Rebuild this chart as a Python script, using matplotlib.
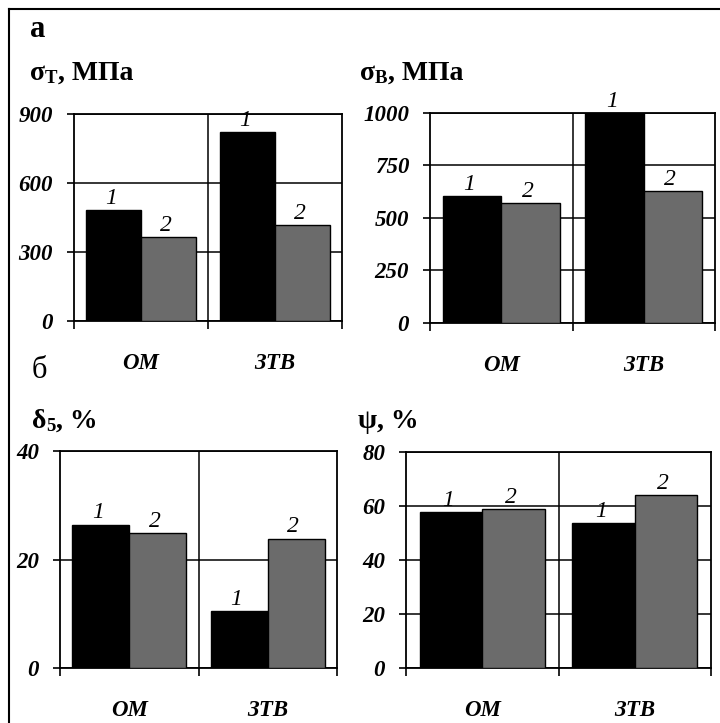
import numpy as np
import matplotlib
matplotlib.use("Agg")
import matplotlib.pyplot as plt
from matplotlib.lines import Line2D

# categories: ОМ - base metal, ЗТВ - heat affected zone
categories = ["ОМ", "ЗТВ"]
series_labels = ["1", "2"]

sigma_t = [[483, 365], [822, 417]]      # МПа
sigma_b = [[605, 571], [1000, 629]]     # МПа
delta5 = [[26.4, 24.9], [10.5, 23.8]]   # %
psi = [[57.8, 58.8], [53.7, 64.1]]      # %

yticks_t = [0, 300, 600, 900]
yticks_b = [0, 250, 500, 750, 1000]
yticks_d = [0, 20, 40]
yticks_p = [0, 20, 40, 60, 80]

W, H = 720, 723
SERIF = "Liberation Serif"
colors = ["#000000", "#6b6b6b"]

fig = plt.figure(figsize=(W / 100, H / 100), dpi=100)


def px_axes(left, top, right, bottom):
    return fig.add_axes([left / W, 1 - bottom / H, (right - left) / W, (bottom - top) / H])


def draw_panel(ax, data, yticks):
    x = np.arange(len(categories))
    bw = 0.41
    ax.set_axisbelow(True)
    for j in range(2):
        vals = [d[j] for d in data]
        xs = x + (j - 0.5) * bw
        ax.bar(xs, vals, width=bw, color=colors[j], edgecolor="black", linewidth=1.0, zorder=3)
        for xi, v in zip(xs, vals):
            ax.annotate(series_labels[j], (xi, v), xytext=(-2, 1), textcoords="offset points",
                        ha="center", va="bottom", fontsize=17, style="italic",
                        family=SERIF, annotation_clip=False, zorder=5)
    ax.set_xlim(-0.5, len(categories) - 0.5)
    ax.set_ylim(yticks[0], yticks[-1])
    ax.set_yticks(yticks)
    ax.set_yticklabels([str(t) for t in yticks])
    ax.set_xticks(x)
    ax.set_xticklabels(categories)
    ax.set_xticks(np.arange(-0.5, len(categories)), minor=True)
    ax.tick_params(axis="x", which="major", length=0, pad=23)
    ax.tick_params(axis="x", which="minor", length=6, width=1.2, direction="out")
    ax.tick_params(axis="y", length=5, width=1.2, direction="out", pad=10)
    for lbl in ax.get_xticklabels() + ax.get_yticklabels():
        lbl.set_family(SERIF)
        lbl.set_fontsize(16.5)
        lbl.set_fontweight("bold")
        lbl.set_style("italic")
    ax.yaxis.grid(True, color="black", linewidth=1.1)
    ax.axvline(0.5, color="black", linewidth=1.1, zorder=1)
    for s in ax.spines.values():
        s.set_linewidth(1.3)


def ylabel(ax, xpx, ypx, sym, sub, rest):
    t1 = fig.text(xpx / W, 1 - ypx / H, sym, fontsize=20, fontweight="bold",
                  family=SERIF, va="baseline")
    anchor = t1
    if sub:
        anchor = ax.annotate(sub, xy=(1, 0), xycoords=t1, xytext=(0, -1), textcoords="offset points",
                             fontsize=13.5, fontweight="bold", family=SERIF, va="bottom",
                             annotation_clip=False)
    ax.annotate(rest, xy=(1, 0), xycoords=(anchor, t1), fontsize=20, fontweight="bold",
                family=SERIF, va="bottom", annotation_clip=False)


ax1 = px_axes(74, 114, 342, 321)
ax2 = px_axes(430, 113, 715, 323)
ax3 = px_axes(60, 451, 337, 668)
ax4 = px_axes(406, 452, 711, 668)

draw_panel(ax1, sigma_t, yticks_t)
draw_panel(ax2, sigma_b, yticks_b)
draw_panel(ax3, delta5, yticks_d)
draw_panel(ax4, psi, yticks_p)

ylabel(ax1, 30, 80, "σ", "Т", ", МПа")
ylabel(ax2, 360, 80, "σ", "В", ", МПа")
ylabel(ax3, 32, 428, "δ", "5", ", %")
ylabel(ax4, 358, 428, "ψ", None, ", %")

fig.text(30 / W, 1 - 37 / H, "а", fontsize=22, fontweight="bold", family=SERIF, va="baseline")
fig.text(32 / W, 1 - 378 / H, "б", fontsize=22, family=SERIF, va="baseline")

# outer frame (only left and top edges fall inside the picture)
fig.add_artist(Line2D([9 / W, 9 / W], [0, 1 - 9 / H], color="black", linewidth=1.5))
fig.add_artist(Line2D([9 / W, 1], [1 - 9 / H, 1 - 9 / H], color="black", linewidth=1.5))

fig.savefig("out.png", dpi=100)
